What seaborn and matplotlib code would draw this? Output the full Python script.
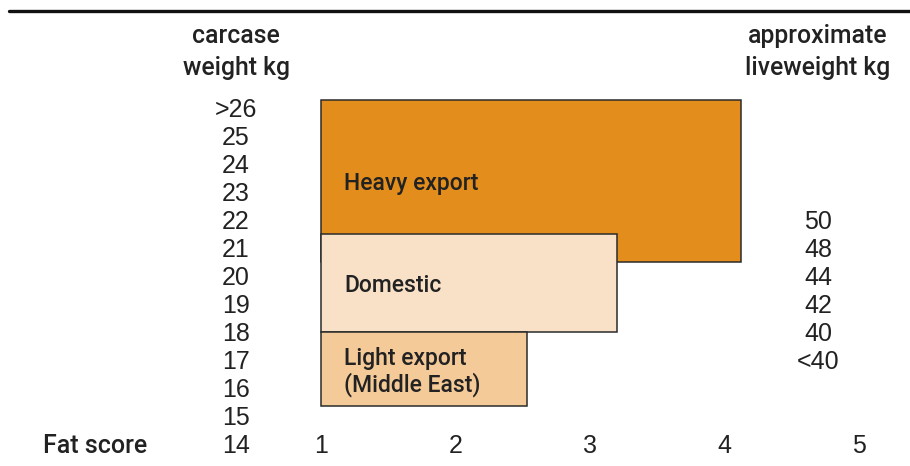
import matplotlib.pyplot as plt
import seaborn as sns

# values
fat_scores = [1, 2, 3, 4, 5]
carcase_kg = [14, 15, 16, 17, 18, 19, 20, 21, 22, 23, 24, 25, 26]
carcase_labels = ['14', '15', '16', '17', '18', '19', '20', '21', '22', '23', '24', '25', '>26']
live_pos = [22, 21, 20, 19, 18, 17]
live_labels = ['50', '48', '44', '42', '40', '<40']

groups = ['Heavy export', 'Domestic', 'Light export\n(Middle East)']
fat_min = [1.0, 1.0, 1.0]
fat_max = [4.12, 3.2, 2.53]
kg_low = [20.5, 18.0, 15.35]
kg_high = [26.3, 21.5, 18.0]
colors = ['#E38E1C', '#F9E1C8', '#F4CA98']

sns.set_theme(style='white')
plt.rcParams['font.family'] = ['Liberation Sans', 'DejaVu Sans']
txt = '#222222'
med = ['Roboto', 'Liberation Sans', 'DejaVu Sans']

fig = plt.figure(figsize=(9.1, 4.66), dpi=100)
ax = fig.add_axes([0, 0, 1, 1])
ax.set_xlim(-1.387, 5.379)
ax.set_ylim(13.214, 29.857)
ax.axis('off')

# boxes
for g, x0, x1, lo, hi, c in zip(groups, fat_min, fat_max, kg_low, kg_high, colors):
    ax.bar(x0, hi - lo, width=x1 - x0, bottom=lo, align='edge',
           color=c, edgecolor='#2b2b2b', linewidth=1.1)
    ax.text(x0 + 0.17, (lo + hi) / 2 - 0.1, g, ha='left', va='center', family=med,
            fontsize=16.5, fontweight='medium', color=txt, linespacing=1.15)

# rule at the top
ax.axhline(29.46, xmin=0.01, xmax=1, color='#111111', linewidth=2.4)

lab_x = 0.368
live_x = 4.695
off = 0.31
for v, s in zip(carcase_kg, carcase_labels):
    ax.text(lab_x, v - off, s, ha='center', va='baseline', fontsize=18, color=txt)
for v, s in zip(live_pos, live_labels):
    ax.text(live_x, v - off, s, ha='center', va='baseline', fontsize=18, color=txt)
for f in fat_scores:
    ax.text(f, 14 - off, str(f), ha='center', va='baseline', fontsize=18, color=txt)
ax.text(-0.682, 14 - off, 'Fat score', ha='center', va='baseline', fontsize=18,
        family=med, fontweight='medium', color=txt)

for x, top, bot in [(lab_x, 'carcase', 'weight kg'), (live_x, 'approximate', 'liveweight kg')]:
    ax.text(x, 28.32, top, ha='center', va='baseline', fontsize=17.8,
            family=med, fontweight='medium', color=txt)
    ax.text(x, 27.18, bot, ha='center', va='baseline', fontsize=17.8,
            family=med, fontweight='medium', color=txt)

fig.savefig('out.png', dpi=100)
